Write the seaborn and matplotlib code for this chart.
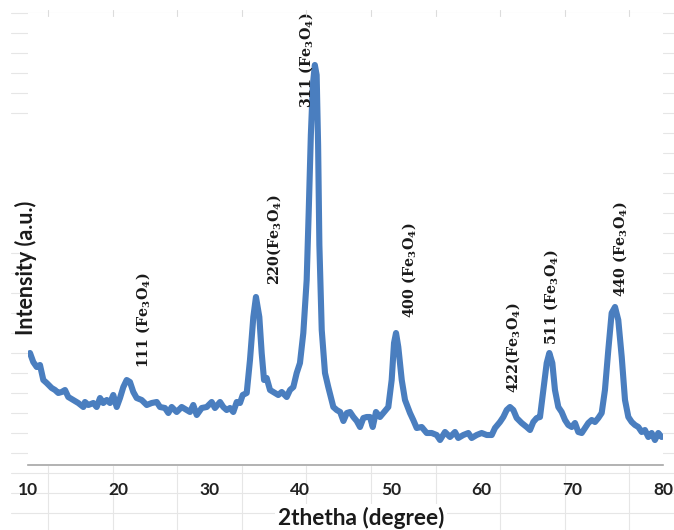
import numpy as np
import pandas as pd
import matplotlib
matplotlib.use("Agg")
import matplotlib.pyplot as plt
import seaborn as sns
from matplotlib.lines import Line2D

# ---------------- data ----------------
two_theta = [
    10.22, 10.58, 10.96, 11.32, 11.69, 12.06, 12.61, 12.98, 13.34, 13.71,
    14.08, 14.44, 14.99, 15.54, 16.10, 16.28, 16.65, 17.20, 17.57, 17.94,
    18.30, 18.68, 19.04, 19.40, 19.78, 20.14, 20.51, 20.88, 21.24, 21.61,
    21.98, 22.53, 23.09, 23.64, 24.19, 24.55, 25.10, 25.47, 25.84, 26.39,
    26.94, 27.49, 27.86, 28.22, 28.60, 29.15, 29.70, 30.25, 30.61, 31.17,
    31.53, 31.90, 32.27, 32.63, 33.01, 33.37, 33.67, 34.11, 34.47, 34.84,
    35.13, 35.50, 35.76, 36.02, 36.31, 36.68, 37.23, 37.59, 37.97, 38.52,
    38.88, 39.25, 39.62, 39.98, 40.35, 40.72, 40.95, 41.18, 41.40, 41.62,
    41.82, 41.98, 42.12, 42.38, 42.74, 43.10, 43.66, 44.03, 44.41, 44.77,
    45.15, 45.50, 45.87, 46.24, 46.60, 46.97, 47.34, 47.70, 48.00, 48.36,
    48.80, 49.17, 49.72, 50.09, 50.35, 50.57, 50.82, 51.20, 51.56, 52.11,
    52.47, 52.85, 53.40, 53.95, 54.50, 55.05, 55.42, 55.97, 56.52, 57.07,
    57.43, 57.99, 58.54, 58.91, 59.46, 60.01, 60.57, 61.12, 61.48, 62.03,
    62.40, 62.77, 63.13, 63.50, 63.87, 64.42, 64.97, 65.34, 65.70, 66.08,
    66.44, 66.81, 67.18, 67.47, 67.80, 68.09, 68.46, 68.83, 69.20, 69.56,
    69.94, 70.30, 70.66, 71.04, 71.40, 71.77, 72.14, 72.50, 72.87, 73.24,
    73.60, 73.97, 74.34, 74.71, 75.07, 75.45, 75.81, 76.18, 76.55, 76.91,
    77.28, 77.65, 78.01, 78.38, 78.75, 79.11, 79.48, 79.85,
]
intensity = [
    112, 103, 98, 100, 85, 82, 77, 75, 72, 73,
    75, 68, 65, 62, 58, 63, 60, 62, 58, 67,
    62, 65, 62, 70, 58, 67, 78, 85, 83, 73,
    67, 65, 60, 62, 63, 58, 57, 52, 58, 53,
    58, 55, 53, 60, 50, 57, 58, 63, 57, 63,
    58, 55, 57, 53, 63, 62, 70, 72, 105, 148,
    168, 148, 112, 85, 87, 75, 72, 70, 73, 68,
    75, 78, 92, 102, 132, 185, 255, 330, 380, 400,
    390, 320, 220, 135, 92, 78, 58, 55, 53, 44,
    52, 53, 48, 44, 38, 47, 48, 48, 38, 53,
    48, 52, 58, 85, 122, 132, 118, 85, 65, 52,
    45, 37, 38, 32, 32, 30, 25, 33, 28, 33,
    27, 30, 32, 27, 30, 32, 30, 30, 37, 43,
    48, 55, 58, 55, 47, 42, 38, 35, 43, 47,
    48, 75, 102, 112, 102, 75, 58, 53, 45, 40,
    38, 42, 33, 32, 37, 42, 45, 43, 47, 52,
    75, 115, 152, 158, 145, 108, 65, 48, 43, 40,
    38, 33, 35, 28, 32, 25, 32, 28,
]

peak_labels = [
    "111 (Fe$_3$O$_4$)", "220(Fe$_3$O$_4$)", "311 (Fe$_3$O$_4$)",
    "400 (Fe$_3$O$_4$)", "422(Fe$_3$O$_4$)", "511 (Fe$_3$O$_4$)",
    "440 (Fe$_3$O$_4$)",
]
label_x = [22.68, 37.12, 40.65, 52.0, 63.47, 67.66, 75.26]
label_y = [97, 180, 357, 147, 72, 120, 168]

x_ticks = [10, 20, 30, 40, 50, 60, 70, 80]
x_title = "2thetha (degree)"
y_title = "Intensity (a.u.)"

df = pd.DataFrame({"two_theta": two_theta, "intensity": intensity})

# ---------------- style ----------------
sns.set_style("white")
plt.rcParams["font.family"] = ["Lato", "DejaVu Sans"]
plt.rcParams["mathtext.fontset"] = "custom"
plt.rcParams["mathtext.rm"] = "DejaVu Serif:bold"
plt.rcParams["mathtext.it"] = "DejaVu Serif:bold"
plt.rcParams["mathtext.bf"] = "DejaVu Serif:bold"

W, H = 674, 530
fig = plt.figure(figsize=(W / 100, H / 100), dpi=100)
fig.patch.set_facecolor("white")


def fx(px):
    return px / W


def fy(py):
    return 1 - py / H


# faint spreadsheet cell grid showing around the chart
grid_c = "#e6e6e6"
for r in range(13, 520, 20):
    x0 = 11 if (r <= 113 or r >= 250) else 0
    if x0 == 0:
        fig.add_artist(Line2D([fx(663), fx(674)], [fy(r), fy(r)], color=grid_c,
                              lw=0.8, zorder=-5, transform=fig.transFigure))
        continue
    fig.add_artist(Line2D([fx(x0), fx(674)], [fy(r), fy(r)], color=grid_c,
                          lw=0.8, zorder=-5, transform=fig.transFigure))
for c in np.arange(48, 674, 64.6):
    fig.add_artist(Line2D([fx(c), fx(c)], [fy(466), fy(530)], color=grid_c,
                          lw=0.8, zorder=-5, transform=fig.transFigure))
    fig.add_artist(Line2D([fx(c), fx(c)], [fy(10), fy(16)], color="#dcdcdc",
                          lw=0.8, zorder=5, transform=fig.transFigure))

ax = fig.add_axes([fx(28), fy(465), (663 - 28) / W, (465 - 13) / H])
ax.set_facecolor("white")

sns.lineplot(data=df, x="two_theta", y="intensity", ax=ax, color="#4a7ebf",
             lw=4.4, solid_joinstyle="round", solid_capstyle="round")

ax.set_xlim(10, 80)
ax.set_ylim(0, 452)
ax.set_yticks([])
ax.set_xticks(x_ticks)
ax.set_xticklabels([str(t) for t in x_ticks], fontweight="bold",
                   fontsize=12.5, color="#222222")
ax.tick_params(axis="x", direction="out", length=4, width=1,
               color="#a6a6a6", pad=8)
for s in ["left", "right", "top"]:
    ax.spines[s].set_visible(False)
ax.spines["bottom"].set_color("#a6a6a6")
ax.spines["bottom"].set_linewidth(1.2)
ax.set_xlabel("")
ax.set_ylabel("")

for lab, lx, ly in zip(peak_labels, label_x, label_y):
    ax.text(lx, ly, lab, rotation=90, ha="center", va="bottom",
            fontfamily="DejaVu Serif", fontweight="bold", fontsize=10.3,
            color="#1a1a1a")

fig.text(fx(361), fy(518), x_title, ha="center", va="center",
         fontweight="bold", fontsize=16.3, color="#1a1a1a",
         bbox=dict(facecolor="white", edgecolor="none", pad=2))
fig.text(fx(26), fy(268), y_title, ha="center", va="center", rotation=90,
         fontweight="bold", fontsize=15.5, color="#1a1a1a")

fig.savefig("out.png", dpi=100, facecolor="white")
